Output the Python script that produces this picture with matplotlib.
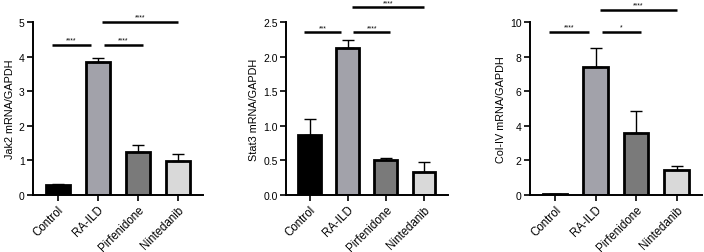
import numpy as np
import matplotlib.pyplot as plt

plt.rcParams["font.family"] = ["Liberation Sans", "DejaVu Sans"]

groups = ["Control", "RA-ILD", "Pirfenidone", "Nintedanib"]
colors = ["#000000", "#a2a2aa", "#7a7a7a", "#d9d9d9"]

jak2_mean = [0.28, 3.83, 1.23, 0.98]
jak2_err = [0.04, 0.14, 0.21, 0.21]
stat3_mean = [0.86, 2.13, 0.51, 0.33]
stat3_err = [0.24, 0.11, 0.03, 0.15]
col4_mean = [0.05, 7.40, 3.57, 1.45]
col4_err = [0.02, 1.10, 1.31, 0.23]

# (group a, group b, height, label)
jak2_sig = [(0, 1, 4.33, "****"), (1, 2, 4.33, "****"), (1, 3, 5.0, "****")]
stat3_sig = [(0, 1, 2.35, "***"), (1, 2, 2.35, "****"), (1, 3, 2.71, "****")]
col4_sig = [(0, 1, 9.44, "****"), (1, 2, 9.44, "*"), (1, 3, 10.7, "****")]

panels = [
    ("Jak2 mRNA/GAPDH", jak2_mean, jak2_err, jak2_sig, (0, 5), [0, 1, 2, 3, 4, 5], "{:g}",
     [33 / 704, 57 / 253, 170 / 704, 173 / 253]),
    ("Stat3 mRNA/GAPDH", stat3_mean, stat3_err, stat3_sig, (0, 2.5), [0, 0.5, 1.0, 1.5, 2.0, 2.5], "{:.1f}",
     [286 / 704, 57 / 253, 162 / 704, 173 / 253]),
    ("Col-IV mRNA/GAPDH", col4_mean, col4_err, col4_sig, (0, 10), [0, 2, 4, 6, 8, 10], "{:g}",
     [530 / 704, 57 / 253, 172 / 704, 173 / 253]),
]

fig = plt.figure(figsize=(7.04, 2.53), dpi=100)

for ylabel, means, errs, sigs, ylim, yticks, fmt, rect in panels:
    ax = fig.add_axes(rect)
    x = np.arange(len(groups))
    ax.bar(x, means, width=0.6, color=colors, edgecolor="black", linewidth=2.0,
           yerr=[np.zeros(len(errs)), errs], capsize=4.5,
           error_kw=dict(ecolor="black", elinewidth=1.0, capthick=1.0), zorder=2)
    for i, j, y, txt in sigs:
        if i == 0:
            x0, x1 = i - 0.15, j - 0.17
        elif j == i + 1:
            x0, x1 = i + 0.15, j + 0.12
        else:
            x0, x1 = i + 0.1, j
        ax.plot([x0, x1], [y, y], color="black", lw=1.8, clip_on=False,
                solid_capstyle="butt")
        ax.annotate(txt, ((x0 + x1) / 2, y), xytext=(0, 1), textcoords="offset points",
                    ha="center", va="bottom", fontsize=4.8, annotation_clip=False)
    ax.set_xlim(-0.62, 3.63)
    ax.set_ylim(*ylim)
    ax.set_yticks(yticks)
    ax.set_yticklabels([fmt.format(t) for t in yticks])
    ax.set_xticks(x)
    ax.set_xticklabels(groups, rotation=45, ha="right", rotation_mode="anchor")
    ax.set_ylabel(ylabel, fontsize=7.8, labelpad=3)
    ax.spines["top"].set_visible(False)
    ax.spines["right"].set_visible(False)
    ax.spines["left"].set_linewidth(1.4)
    ax.spines["bottom"].set_linewidth(1.4)
    ax.tick_params(axis="y", labelsize=7.5, width=1.2, length=4, pad=2)
    ax.tick_params(axis="x", labelsize=8.3, width=1.2, length=4, pad=2)

fig.savefig("out.png", dpi=100)
